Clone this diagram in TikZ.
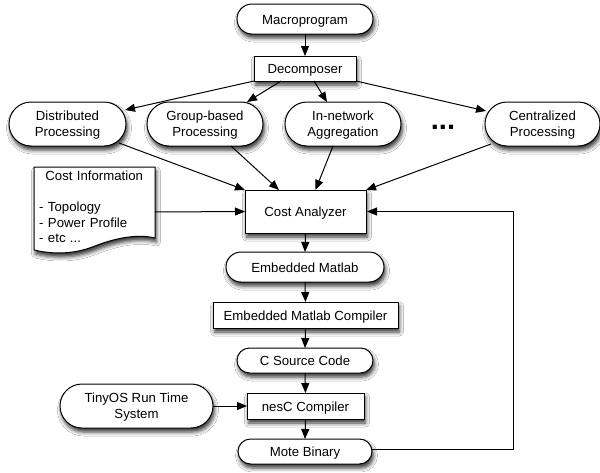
\documentclass[tikz,border=0pt]{standalone}
\usepackage{fontspec}
\setmainfont{Liberation Sans}
\usetikzlibrary{shapes.misc,arrows.meta,shadows.blur}
\tikzset{
  softshadow/.style={blur shadow={shadow xshift=1.5pt,shadow yshift=-4pt,shadow blur radius=4pt,shadow opacity=80}},
  boxbase/.style={draw=black,line width=1pt,fill=white,inner sep=0pt,outer sep=0pt,align=center,font=\fontsize{13.2}{15.7}\selectfont,softshadow,text height=12pt,text depth=2pt},
  pill/.style={boxbase,rounded rectangle},
  proc/.style={boxbase,rectangle},
  twoline/.style={text height=27pt},
  conn/.style={draw=black,line width=1pt,-{Triangle[length=10pt,width=8pt]},shorten >=0pt},
}
\newcommand{\place}[6]{\node[#1,minimum width=#4pt,minimum height=#5pt] (#2) at (#3) {#6};}
\begin{document}
\begin{tikzpicture}[x=1pt,y=-1pt]
\useasboundingbox (0,0) rectangle (600,472);
\clip (0,0) rectangle (600,472);
\fill[white] (0,0) rectangle (600,472);
% document shape, drawn around its named node
\node[minimum width=121pt,minimum height=83pt,inner sep=0pt,outer sep=0pt] (info) at (94.5,208.5) {};
\draw[line width=1pt,fill=white,softshadow] (info.north west) -- (info.north east) -- ([shift={(0,71)}]info.north east)
  .. controls ([shift={(-20,-17)}]info.south east) and ([shift={(-45,-10)}]info.south east) .. ([shift={(-60,-4)}]info.south east)
  .. controls ([shift={(-75,2)}]info.south east) and ([shift={(-95,6)}]info.south east) .. (info.south west) -- cycle;
\node[anchor=north west,inner sep=0pt,text width=112pt,align=left,font=\fontsize{13.2}{15.6}\selectfont] (infotext) at (39,170.5)
  {\makebox[110pt][c]{Cost Information}\\[15.6pt]- Topology\\- Power Profile\\- etc ...};
\place{pill}{macro}{305,19}{136}{30}{Macroprogram}
\place{proc}{dec}{305,68.5}{102}{25}{Decomposer}
\place{pill,twoline}{dist}{67.5,124}{117}{44}{Distributed\\Processing}
\place{pill,twoline}{group}{205,124}{116}{44}{Group-based\\Processing}
\place{pill,twoline}{innet}{343,124}{116}{44}{In-network\\Aggregation}
\place{pill,twoline}{central}{542.5,124}{115}{44}{Centralized\\Processing}
\node[inner sep=0pt,font=\bfseries\fontsize{29}{29}\selectfont] (dots) at (443,127) {...};
\place{proc}{cost}{305.5,211.5}{121}{43}{Cost Analyzer}
\place{pill}{emat}{305,267}{158}{30}{Embedded Matlab}
\place{proc}{emc}{305.5,315}{185}{26}{Embedded Matlab Compiler}
\place{pill}{csrc}{305,360.5}{136}{25}{C Source Code}
\place{proc}{nesc}{305.5,406}{117}{26}{nesC Compiler}
\place{pill}{mote}{305,451.5}{134}{25}{Mote Binary}
\place{pill,twoline}{tiny}{136.5,406}{153}{44}{TinyOS Run Time\\System}
\draw[conn] (macro.south) -- (dec.north);
\draw[conn] (dec.south west) -- ([shift={(-1,-14)}]dist.east);
\draw[conn] ([shift={(27,0)}]dec.south west) -- ([shift={(42,0)}]group.north);
\draw[conn] ([shift={(9,0)}]dec.south) -- ([shift={(-16,0)}]innet.north);
\draw[conn] (dec.south east) -- ([shift={(1,-13)}]central.west);
\draw[conn] ([shift={(-7,19)}]dist.east) -- ([shift={(0,0)}]cost.north west);
\draw[conn] ([shift={(26,0)}]group.south) -- ([shift={(-26.5,0)}]cost.north);
\draw[conn] ([shift={(-10,0)}]innet.south) -- ([shift={(10,0)}]cost.north);
\draw[conn] ([shift={(6,20)}]central.west) -- (cost.north east);
\draw[conn] ([shift={(0,3.5)}]info.east) -- (cost.west);
\draw[conn] (cost.south) -- (emat.north);
\draw[conn] (emat.south) -- (emc.north);
\draw[conn] (emc.south) -- (csrc.north);
\draw[conn] (csrc.south) -- (nesc.north);
\draw[conn] (nesc.south) -- (mote.north);
\draw[conn] (tiny.east) -- (nesc.west);
\draw[conn] ([shift={(0,-2.5)}]mote.east) -- ++(141,0) |- ([shift={(1,0)}]cost.east);
\end{tikzpicture}
\end{document}
